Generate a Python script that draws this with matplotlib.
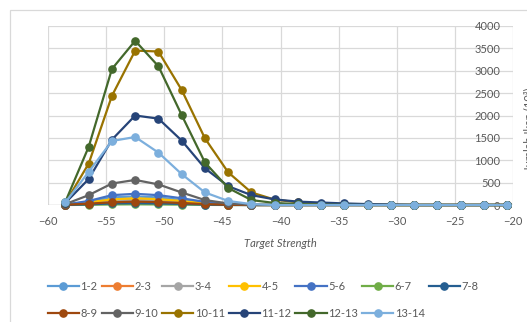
import matplotlib
matplotlib.use("Agg")
import matplotlib.pyplot as plt
from matplotlib.patches import Rectangle

plt.rcParams['font.family'] = ['Lato', 'DejaVu Sans']

# Target strength (dB) of each point
ts = [-58.5, -56.5, -54.5, -52.5, -50.5, -48.5, -46.5, -44.5, -42.5, -40.5,
      -38.5, -36.5, -34.5, -32.5, -30.5, -28.5, -26.5, -24.5, -22.5, -20.5]

labels = ["1-2", "2-3", "3-4", "4-5", "5-6", "6-7", "7-8",
          "8-9", "9-10", "10-11", "11-12", "12-13", "13-14"]

s_1_2 = [10, 70, 170, 190, 170, 110, 50, 15, 0, 0, 0, 0, 0, 0, 0, 0, 0, 0, 0, 0]
s_2_3 = [5, 35, 80, 90, 80, 55, 25, 5, 0, 0, 0, 0, 0, 0, 0, 0, 0, 0, 0, 0]
s_3_4 = [5, 45, 100, 115, 100, 70, 30, 8, 0, 0, 0, 0, 0, 0, 0, 0, 0, 0, 0, 0]
s_4_5 = [5, 60, 125, 150, 130, 90, 40, 10, 0, 0, 0, 0, 0, 0, 0, 0, 0, 0, 0, 0]
s_5_6 = [10, 90, 220, 250, 220, 150, 70, 20, 0, 0, 0, 0, 0, 0, 0, 0, 0, 0, 0, 0]
s_6_7 = [0, 5, 12, 15, 12, 8, 3, 0, 0, 0, 0, 0, 0, 0, 0, 0, 0, 0, 0, 0]
s_7_8 = [0, 15, 35, 40, 35, 25, 10, 0, 0, 0, 0, 0, 0, 0, 0, 0, 0, 0, 0, 0]
s_8_9 = [5, 30, 60, 75, 65, 45, 20, 5, 0, 0, 0, 0, 0, 0, 0, 0, 0, 0, 0, 0]
s_9_10 = [20, 220, 480, 560, 460, 280, 110, 35, 5, 0, 0, 0, 0, 0, 0, 0, 0, 0, 0, 0]
s_10_11 = [50, 925, 2440, 3450, 3430, 2570, 1490, 730, 280, 120, 60, 30, 15, 5, 0, 0, 0, 0, 0, 0]
s_11_12 = [50, 580, 1460, 2000, 1930, 1440, 820, 420, 220, 125, 75, 55, 35, 20, 10, 0, 0, 0, 0, 0]
s_12_13 = [75, 1300, 3040, 3670, 3100, 2010, 950, 380, 110, 45, 20, 10, 5, 0, 0, 0, 0, 0, 0, 0]
s_13_14 = [60, 740, 1430, 1520, 1170, 690, 280, 90, 20, 0, 0, 0, 0, 0, 0, 0, 0, 0, 0, 0]

series = [s_1_2, s_2_3, s_3_4, s_4_5, s_5_6, s_6_7, s_7_8,
          s_8_9, s_9_10, s_10_11, s_11_12, s_12_13, s_13_14]

colors = ["#5B9BD5", "#ED7D31", "#A5A5A5", "#FFC000", "#4472C4", "#70AD47", "#255E91",
          "#9E480E", "#636363", "#997300", "#264478", "#43682B", "#7CAFDD"]

W, H = 527, 322
fig = plt.figure(figsize=(W / 100, H / 100), dpi=100)
ax = fig.add_axes([48 / W, (H - 205) / H, (513 - 48) / W, (205 - 26) / H])

handles = []
for vals, lab, col in zip(series, labels, colors):
    h, = ax.plot(ts, vals, color=col, lw=1.6, marker='o', ms=5.2,
                 markeredgecolor=col, label=lab, clip_on=False, zorder=3)
    handles.append(h)

ax.set_xlim(-60, -20)
ax.set_ylim(0, 4000)
ax.set_xticks(range(-60, -19, 5))
ax.set_yticks(range(0, 4001, 500))
ax.grid(True, color="#D9D9D9", lw=0.9, zorder=0)
ax.set_axisbelow(True)
for s in ax.spines.values():
    s.set_visible(False)
ax.spines['left'].set_position(('data', -20))
ax.axhline(0, color="#BFBFBF", lw=0.9, zorder=1)
ax.tick_params(axis='both', length=0, labelsize=8, labelcolor="#595959")
ax.tick_params(axis='x', pad=8)
ax.tick_params(axis='y', pad=9)

ax.set_xlabel("Target Strength", fontsize=8, style='italic', color="#595959", labelpad=8)
fig.text(529 / W, 1 - 129 / H, "Jumlah Ikan (10³)", rotation=90, ha='center', va='center',
         fontsize=8, color="#595959")

# chart border
fig.patches.append(Rectangle((10 / W, -0.2), 1.2, 1.2 - 10 / H, transform=fig.transFigure,
                             fill=False, edgecolor="#D9D9D9", lw=0.9))

order = [0, 7, 1, 8, 2, 9, 3, 10, 4, 11, 5, 12, 6]
leg = fig.legend([handles[i] for i in order], [labels[i] for i in order],
                 ncol=7, loc='upper left', bbox_to_anchor=(40 / W, 1 - 273 / H),
                 frameon=False, fontsize=8, handlelength=2.8, handletextpad=0.15,
                 columnspacing=0.35, labelspacing=1.45, borderpad=0.2)
for t in leg.get_texts():
    t.set_color("#595959")

fig.savefig("out.png", dpi=100)
